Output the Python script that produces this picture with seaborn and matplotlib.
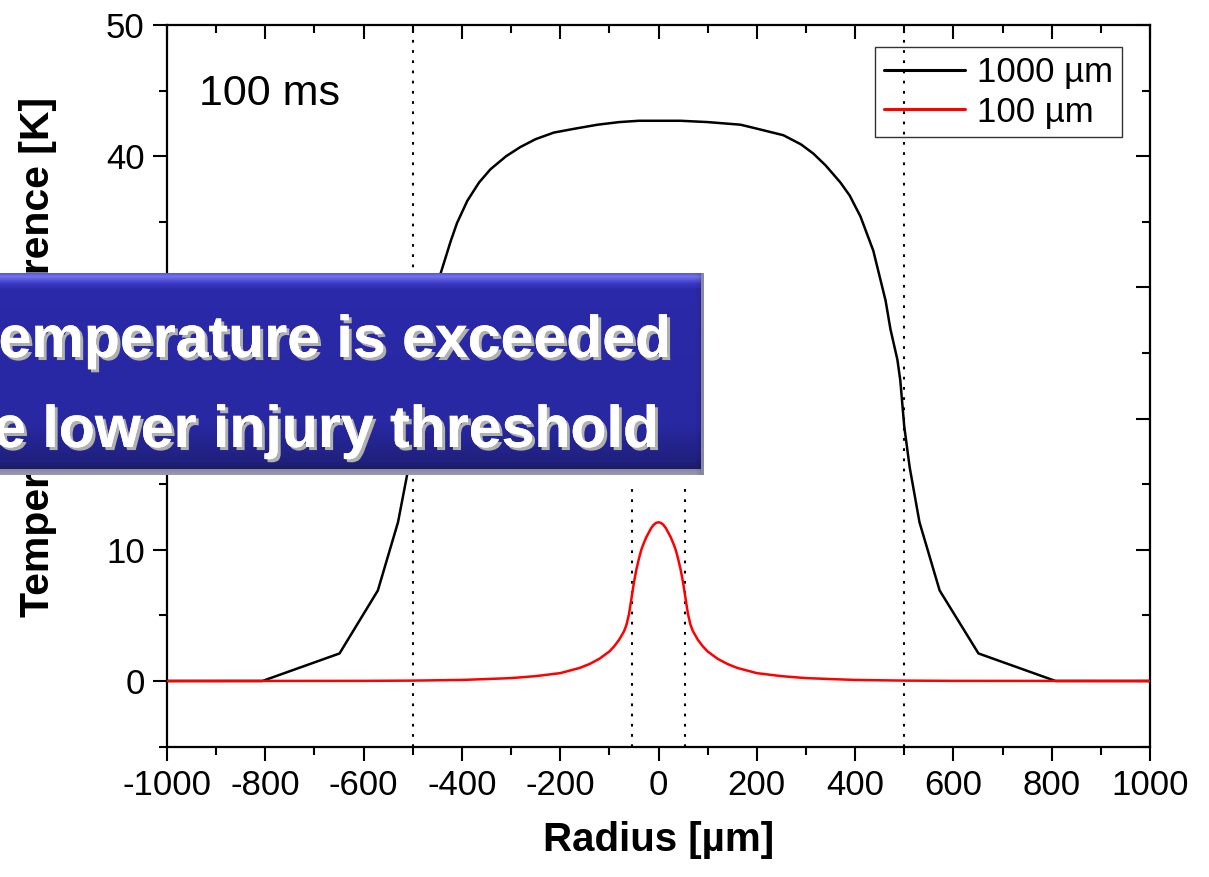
import numpy as np
import pandas as pd
import matplotlib
matplotlib.use("Agg")
import matplotlib.pyplot as plt
import matplotlib.patheffects as pe
from matplotlib.ticker import MultipleLocator
import seaborn as sns

# ---- data -----------------------------------------------------------------
radius_1000 = [-1000, -806, -649, -571, -530, -511, -500, -492, -486, -472, -462,
               -443, -423, -410, -389, -365, -342, -310, -281, -250, -213, -170,
               -124, -80, -40, 45, 100, 167, 200, 254, 290, 315, 340, 370, 389,
               411, 437, 462, 472, 486, 492, 500, 511, 531, 572, 651, 808, 1000]
temp_1000 = [0.0, 0.0, 2.1, 6.9, 12.1, 15.8, 19.4, 22.9, 24.5, 26.6, 29.0,
             31.1, 33.5, 34.9, 36.6, 38.0, 39.0, 40.0, 40.7, 41.3, 41.8, 42.1,
             42.4, 42.6, 42.7, 42.7, 42.6, 42.4, 42.1, 41.6, 40.9, 40.2, 39.3,
             38.0, 37.0, 35.4, 32.8, 29.0, 26.8, 24.5, 22.9, 19.4, 16.3, 12.1,
             6.9, 2.1, 0.0, 0.0]

radius_100 = [-1000, -600, -500, -400, -300, -250, -200, -160, -140, -120, -100,
              -90, -80, -70, -65, -60, -55, -50, -45, -40, -35, -30, -25, -20,
              -15, -10, -5, 0, 5, 10, 15, 20, 25, 30, 35, 40, 45, 50, 55, 60, 65,
              70, 80, 90, 100, 120, 140, 160, 200, 250, 300, 400, 500, 600, 1000]
temp_100 = [0.0, 0.01, 0.03, 0.08, 0.22, 0.37, 0.6, 1.0, 1.3, 1.7, 2.25,
            2.65, 3.15, 3.8, 4.3, 5.1, 6.3, 7.5, 8.5, 9.3, 10.0, 10.5, 10.95,
            11.3, 11.65, 11.9, 12.05, 12.1, 12.05, 11.9, 11.65, 11.3, 10.95,
            10.5, 10.0, 9.3, 8.5, 7.5, 6.3, 5.1, 4.3, 3.8, 3.15, 2.65, 2.25,
            1.7, 1.3, 1.0, 0.6, 0.37, 0.22, 0.08, 0.03, 0.01, 0.0]

series_labels = ["1000 µm", "100 µm"]
series_colors = ["#000000", "#ff0000"]

# beam edges (full height) and small-spot edges (short markers)
beam_edges = [-500, 500]
spot_edges = [-54, 54]
spot_marker_top = 14.6

x_ticks = list(range(-1000, 1001, 200))
y_ticks = [0, 10, 20, 30, 40, 50]

# ---- style ----------------------------------------------------------------
sns.set_theme(style="ticks")
plt.rcParams["font.family"] = ["Liberation Sans", "DejaVu Sans"]
plt.rcParams["axes.unicode_minus"] = False
plt.rcParams["text.color"] = "black"
plt.rcParams["axes.labelcolor"] = "black"

W, H = 1209, 877
fig = plt.figure(figsize=(W / 100, H / 100), dpi=100)
fig.patch.set_facecolor("white")

ax_l, ax_r, ax_t, ax_b = 167, 1150, 25, 746.6
ax = fig.add_axes([ax_l / W, 1 - ax_b / H, (ax_r - ax_l) / W, (ax_b - ax_t) / H])
ax.set_facecolor("white")

df = pd.concat([
    pd.DataFrame({"Radius": radius_1000, "T": temp_1000, "series": series_labels[0]}),
    pd.DataFrame({"Radius": radius_100, "T": temp_100, "series": series_labels[1]}),
], ignore_index=True)

sns.lineplot(data=df, x="Radius", y="T", hue="series", hue_order=series_labels,
             palette=series_colors, estimator=None, sort=False, linewidth=1.8,
             ax=ax, zorder=3)

dot_style = (0, (1.3, 3.6))
ax.vlines(beam_edges, -5, 50, colors="black", linestyles=[dot_style], linewidth=1.5, zorder=2)
ax.vlines(spot_edges, -5, spot_marker_top, colors="black", linestyles=[dot_style], linewidth=1.5, zorder=2)

ax.set_xlim(-1000, 1000)
ax.set_ylim(-5, 50)
ax.set_xticks(x_ticks)
ax.set_yticks(y_ticks)
ax.xaxis.set_minor_locator(MultipleLocator(100))
ax.yaxis.set_minor_locator(MultipleLocator(5))

for s in ax.spines.values():
    s.set_visible(True)
    s.set_linewidth(1.6)
    s.set_color("black")

ax.tick_params(axis="both", which="major", length=10, width=1.5, color="black",
               labelsize=25, labelcolor="black")
ax.tick_params(axis="both", which="minor", length=6, width=1.5, color="black")
ax.tick_params(axis="x", which="both", direction="out", top=True, pad=6)
ax.tick_params(axis="y", which="both", direction="out", right=True, pad=6)
# inward ticks on the top and right frame
for t in ax.xaxis.get_major_ticks() + ax.xaxis.get_minor_ticks():
    t.tick2line.set_marker(3)
for t in ax.yaxis.get_major_ticks() + ax.yaxis.get_minor_ticks():
    t.tick2line.set_marker(0)

ax.set_xlabel("Radius [µm]", fontsize=29, fontweight="bold", labelpad=14, color="black")
ax.set_ylabel("Temperature difference [K]", fontsize=29.5, fontweight="bold", color="black")
ax.yaxis.set_label_coords(-0.112, 0.54)

ax.text(0.033, 0.905, "100 ms", transform=ax.transAxes, fontsize=31,
        ha="left", va="center", color="black")

leg = ax.legend(loc="upper right", bbox_to_anchor=(0.9715, 0.9695),
                borderaxespad=0, fontsize=25, frameon=True, fancybox=False,
                handlelength=2.35, handletextpad=0.35, labelspacing=0.2,
                borderpad=0.25, title=None)
leg.get_frame().set_edgecolor("black")
leg.get_frame().set_linewidth(1.0)
leg.get_frame().set_facecolor("none")
for line in leg.get_lines():
    line.set_linewidth(2.2)
for txt in leg.get_texts():
    txt.set_color("black")

# ---- highlighted banner over the left part of the plot ----------------------
bx0, bx1, by0, by1 = 0, 703, 273, 475
bw, bh = bx1 - bx0, by1 - by0
bax = fig.add_axes([bx0 / W, 1 - by1 / H, bw / W, bh / H], zorder=10)
bax.set_axis_off()

def hex_rgb(h):
    h = h.lstrip("#")
    return np.array([int(h[i:i + 2], 16) for i in (0, 2, 4)]) / 255.0

stops = [(0, "#5a5ad8"), (3, "#7272f0"), (10, "#3a3ac4"), (16, "#2a2aaa"),
         (150, "#2828a2"), (188, "#20207e"), (195, "#1c1c66"), (196, "#8a8aa6"),
         (202, "#9a9ab0")]
rows = np.arange(bh)
grad = np.zeros((bh, bw, 3))
pos = [s[0] for s in stops]
cols = np.array([hex_rgb(s[1]) for s in stops])
for c in range(3):
    grad[:, :, c] = np.interp(rows, pos, cols[:, c])[:, None]
# bevel on the right edge
edge_pos = [bw - 10, bw - 5, bw - 3, bw]
edge_mix = [0.0, 0.35, 1.0, 1.0]
mix = np.interp(np.arange(bw), edge_pos, edge_mix)
edge_col = hex_rgb("#8a8aa6")
dark = grad * 0.8
bev = np.where(np.arange(bw) >= bw - 3, 1.0, 0.0)
grad = grad * (1 - mix[None, :, None]) + dark * mix[None, :, None]
grad = grad * (1 - bev[None, :, None]) + edge_col * bev[None, :, None]
bax.imshow(grad, extent=[0, 1, 0, 1], aspect="auto", interpolation="bilinear")
bax.set_xlim(0, 1)
bax.set_ylim(0, 1)

shadow = [pe.withSimplePatchShadow(offset=(2.2, -2.2), shadow_rgbFace="#b0b0b0", alpha=1.0),
          pe.Normal()]
bax.text(670 / bw, (by1 - 357) / bh, "emperature is exceeded", color="white",
         fontsize=42.5, fontweight="bold", ha="right", va="baseline",
         path_effects=shadow)
bax.text(658 / bw, (by1 - 447) / bh, "e lower injury threshold", color="white",
         fontsize=42.5, fontweight="bold", ha="right", va="baseline",
         path_effects=shadow)

fig.savefig("out.png", dpi=100, facecolor="white")
